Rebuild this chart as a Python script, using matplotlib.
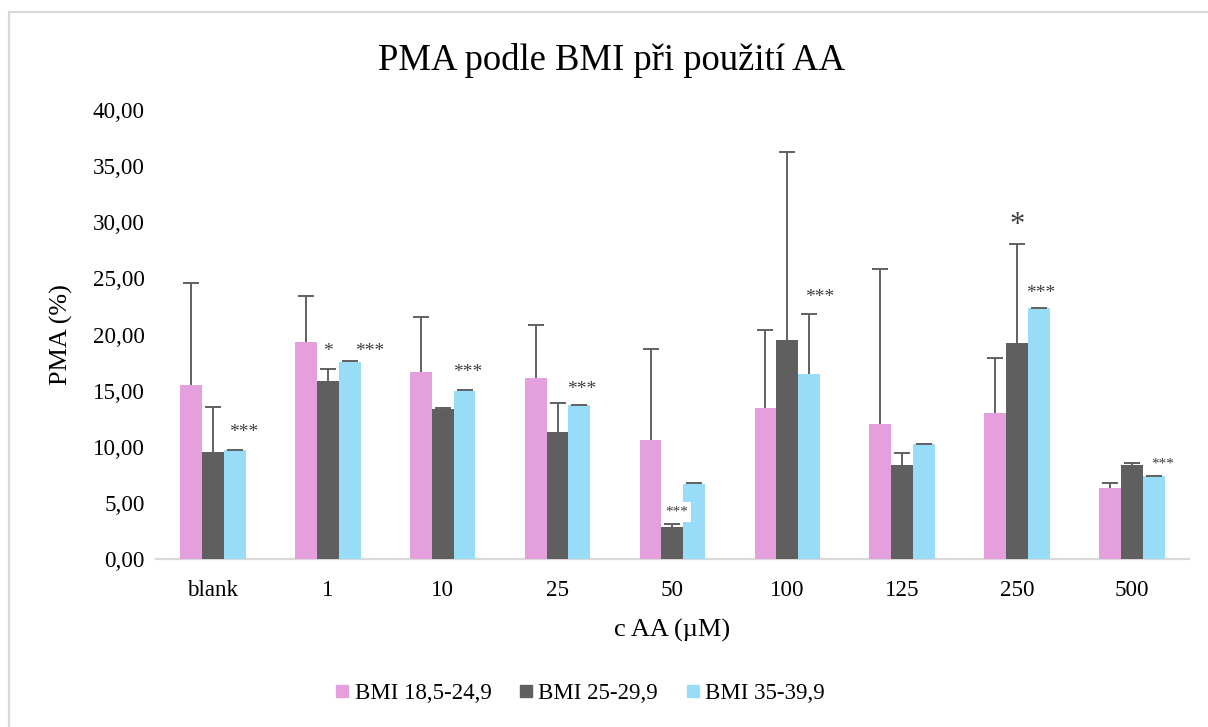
import matplotlib
matplotlib.use("Agg")
import matplotlib.pyplot as plt
import numpy as np
from matplotlib.patches import Rectangle
from matplotlib.lines import Line2D

plt.rcParams['font.family'] = ['Liberation Serif', 'DejaVu Serif']

categories = ["blank", "1", "10", "25", "50", "100", "125", "250", "500"]
series_names = ["BMI 18,5-24,9", "BMI 25-29,9", "BMI 35-39,9"]
colors = ["#E4A0DC", "#5F5F5F", "#99DCF7"]

bmi_normal = [15.56, 19.33, 16.69, 16.15, 10.60, 13.48, 12.05, 13.04, 6.35]
bmi_normal_sd = [9.04, 4.13, 4.87, 4.75, 8.13, 6.92, 13.81, 4.90, 0.45]
bmi_over = [9.56, 15.89, 13.36, 11.31, 2.85, 19.51, 8.43, 19.22, 8.40]
bmi_over_sd = [4.01, 1.01, 0.14, 2.59, 0.33, 16.79, 1.07, 8.88, 0.21]
bmi_obese = [9.71, 17.58, 15.02, 13.72, 6.74, 16.48, 10.24, 22.33, 7.42]
bmi_obese_sd = [0.05, 0.05, 0.03, 0.05, 0.04, 5.37, 0.03, 0.05, 0.03]

# significance marks: (category index, x offset, y, text, fontsize, white box)
sig_cat = [0, 1, 1, 2, 3, 4, 5, 7, 7, 8]
sig_dx = [0.27, 0.0, 0.365, 0.217, 0.21, 0.035, 0.28, 0.0, 0.21, 0.27]
sig_y = [11.3, 18.5, 18.5, 16.65, 15.1, 4.25, 23.35, 29.7, 23.7, 8.5]
sig_text = ["***", "*", "***", "***", "***", "***", "***", "*", "***", "***"]
sig_size = [14, 14, 14, 14, 14, 11, 14, 22, 14, 11]
sig_box = [False, False, False, False, False, True, False, False, True, False]

W, H = 1208, 727
fig = plt.figure(figsize=(W / 100, H / 100), dpi=100)
ax = fig.add_axes([155.6 / W, 1 - 559.3 / H, 1033.6 / W, (559.3 - 110) / H])

x = np.arange(len(categories))
bw = 0.19
series = [bmi_normal, bmi_over, bmi_obese]
sds = [bmi_normal_sd, bmi_over_sd, bmi_obese_sd]
for i, (vals, sd, c, name) in enumerate(zip(series, sds, colors, series_names)):
    pos = x + (i - 1) * bw
    ax.bar(pos, vals, width=bw, color=c, label=name, zorder=2)
    eb = ax.errorbar(pos, vals, yerr=[np.zeros(len(vals)), sd], fmt='none',
                     ecolor="#606060", elinewidth=1.4, capsize=5.5, capthick=1.4, zorder=3)
    caps = eb[1]
    if len(caps) >= 2:
        caps[0].set_visible(False)

for ci, dx, yy, t, fs, box in zip(sig_cat, sig_dx, sig_y, sig_text, sig_size, sig_box):
    kw = {}
    if box:
        kw['bbox'] = dict(facecolor='white', edgecolor='none', pad=2.5)
    ax.text(ci + dx, yy, t, ha='center', va='center', fontsize=fs,
            color="#404040", zorder=5, **kw)

ax.set_xlim(-0.5, len(categories) - 0.5)
ax.set_ylim(0, 40)
ax.set_yticks(np.arange(0, 40.1, 5))
ax.set_yticklabels([f"{v:.2f}".replace('.', ',') for v in np.arange(0, 40.1, 5)])
ax.set_xticks(x)
ax.set_xticklabels(categories)
ax.tick_params(axis='both', length=0, labelsize=16.6, colors='#000000')
ax.tick_params(axis='x', pad=15)
ax.tick_params(axis='y', pad=8)
for s in ['top', 'right', 'left']:
    ax.spines[s].set_visible(False)
ax.spines['bottom'].set_color('#D9D9D9')
ax.spines['bottom'].set_linewidth(1.6)
ax.spines['bottom'].set_zorder(1)

ax.set_ylabel("PMA (%)", fontsize=18.8, labelpad=14)
ax.set_xlabel("c AA (µM)", fontsize=19, labelpad=13)
fig.text(612 / W, 1 - 60 / H, "PMA podle BMI při použití AA", ha='center', va='center', fontsize=26.4)

handles = [Line2D([], [], marker='s', linestyle='none', markersize=8.3,
                  markerfacecolor=c, markeredgecolor=c) for c in colors]
fig.legend(handles, series_names, loc='center', bbox_to_anchor=(580 / W, 1 - 693 / H),
           ncol=3, frameon=False, fontsize=16.5, handlelength=0.6, handletextpad=0.25,
           columnspacing=1.2, borderaxespad=0)

frame = Rectangle((9 / W, -0.2), 1.5, 1.2 - 12 / H, transform=fig.transFigure,
                  facecolor='none', edgecolor='#D9D9D9', linewidth=1.6, clip_on=False)
fig.patches.append(frame)

fig.savefig("out.png", dpi=100)
